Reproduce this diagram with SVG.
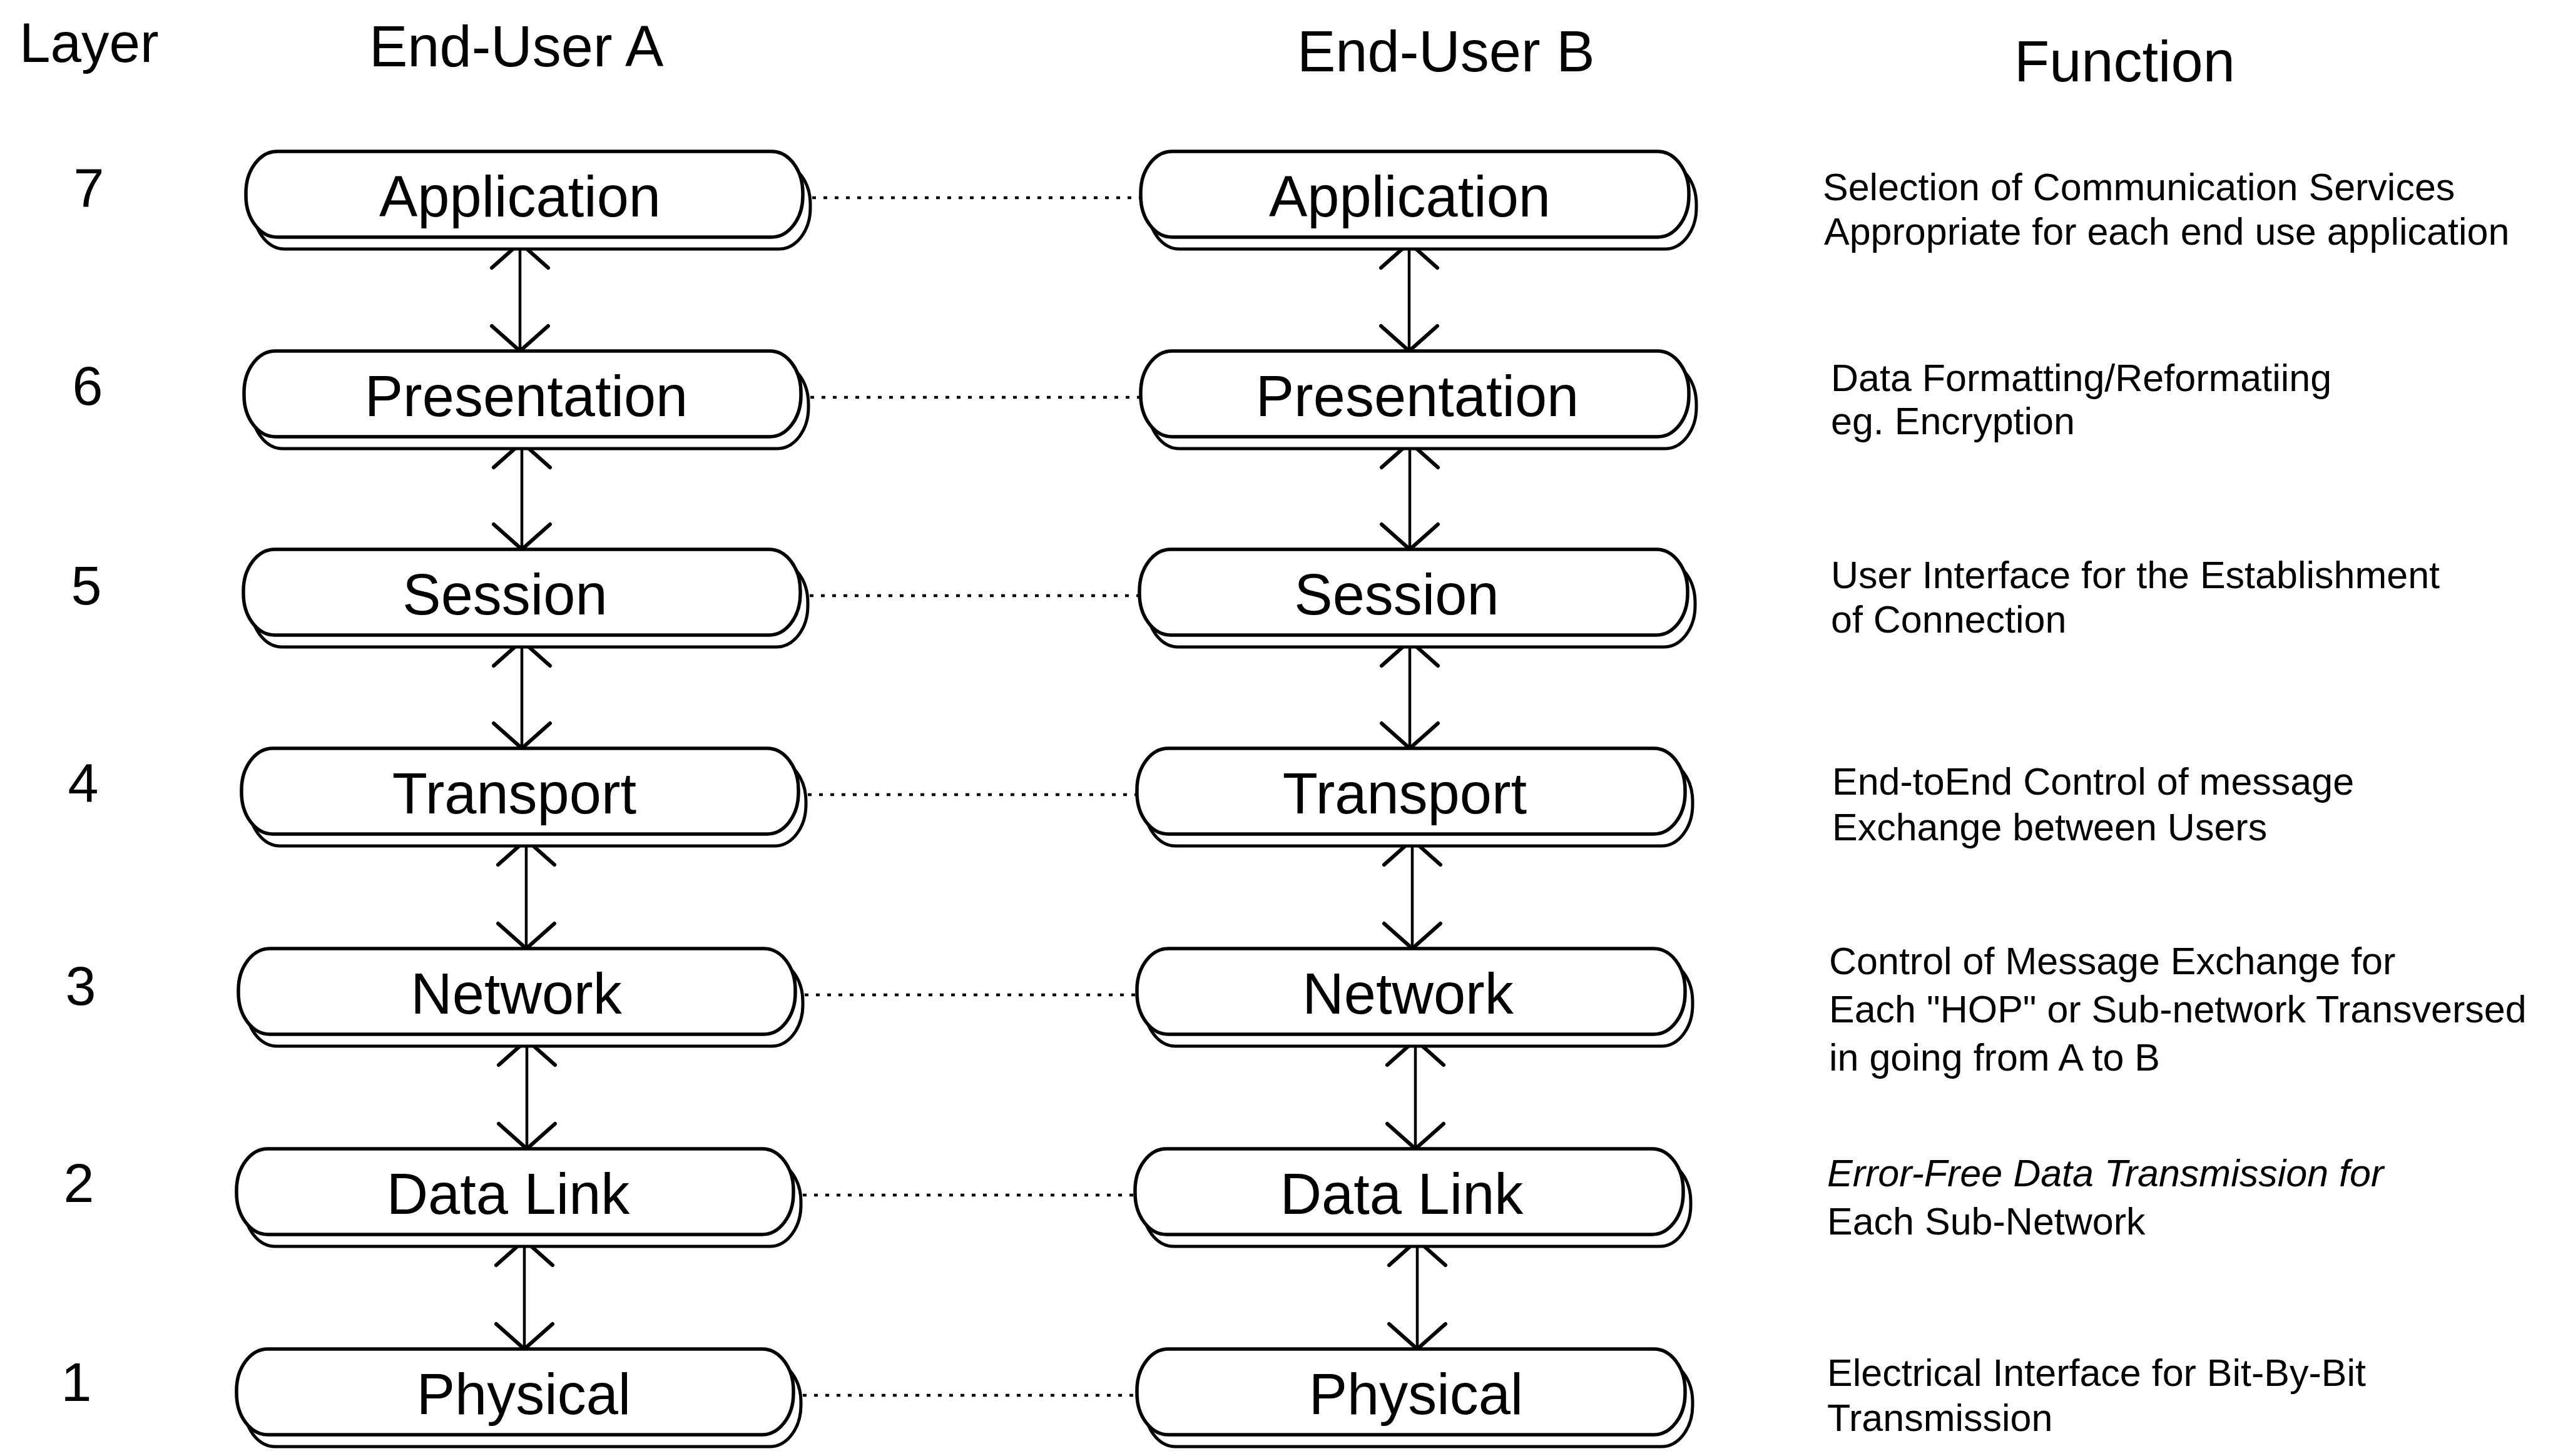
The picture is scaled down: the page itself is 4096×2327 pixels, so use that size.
<svg xmlns="http://www.w3.org/2000/svg" width="4096" height="2327" viewBox="0 0 4096 2327">
<style>
text{font-family:"Liberation Sans",Arial,sans-serif;fill:#000}
.hd{font-size:92px}
.num{font-size:88px;text-anchor:middle}
.lbl{font-size:92px;text-anchor:middle}
.fn{font-size:61px}
.it{font-style:italic}
.box{fill:#fff;stroke:#000;stroke-width:5.5}
.shd{fill:#fff;stroke:#000;stroke-width:5}
.arr{stroke:#000;stroke-width:4.5;fill:none;marker-start:url(#v);marker-end:url(#v)}
.dot{stroke:#000;stroke-width:4.5;stroke-dasharray:6 12;fill:none}
</style>
<defs>
<marker id="v" viewBox="0 0 50 100" refX="46" refY="50" markerWidth="50" markerHeight="100" markerUnits="userSpaceOnUse" orient="auto-start-reverse">
<path d="M6 5 L46 50 L6 95" fill="none" stroke="#000" stroke-width="6" stroke-linejoin="round" stroke-linecap="round"/>
</marker>
<rect id="pa" width="890" height="137" rx="50" ry="66"/>
<rect id="pb" width="876" height="137" rx="50" ry="66"/>
</defs>
<rect width="4096" height="2327" fill="#fff"/>

<g id="headers">
<text class="hd" x="31" y="99" style="font-size:89px">Layer</text>
<text class="hd" x="590" y="106">End-User A</text>
<text class="hd" x="2073" y="114">End-User B</text>
<text class="hd" x="3219" y="130">Function</text>
</g>

<g id="layer-numbers">
<text class="num" x="142" y="331">7</text>
<text class="num" x="140" y="647">6</text>
<text class="num" x="138" y="966">5</text>
<text class="num" x="133" y="1282">4</text>
<text class="num" x="129" y="1606">3</text>
<text class="num" x="126" y="1921">2</text>
<text class="num" x="122" y="2239">1</text>
</g>

<g id="connectors">
<line class="dot" x1="1298" y1="316" x2="1821" y2="316"/>
<line class="dot" x1="1295" y1="635" x2="1821" y2="635"/>
<line class="dot" x1="1294" y1="952" x2="1819" y2="952"/>
<line class="dot" x1="1291" y1="1270" x2="1815" y2="1270"/>
<line class="dot" x1="1286" y1="1590" x2="1815" y2="1590"/>
<line class="dot" x1="1283" y1="1910" x2="1812" y2="1910"/>
<line class="dot" x1="1283" y1="2230" x2="1815" y2="2230"/>
<line class="arr" x1="831" y1="388" x2="831" y2="561"/>
<line class="arr" x1="834" y1="707" x2="834" y2="878"/>
<line class="arr" x1="834" y1="1024" x2="834" y2="1196"/>
<line class="arr" x1="841" y1="1342" x2="841" y2="1516"/>
<line class="arr" x1="842" y1="1662" x2="842" y2="1836"/>
<line class="arr" x1="838" y1="1982" x2="838" y2="2156"/>
<line class="arr" x1="2252" y1="388" x2="2252" y2="561"/>
<line class="arr" x1="2253" y1="707" x2="2253" y2="878"/>
<line class="arr" x1="2253" y1="1024" x2="2253" y2="1196"/>
<line class="arr" x1="2257" y1="1342" x2="2257" y2="1516"/>
<line class="arr" x1="2262" y1="1662" x2="2262" y2="1836"/>
<line class="arr" x1="2265" y1="1982" x2="2265" y2="2156"/>
</g>

<g id="a-application"><use href="#pa" class="shd" x="405" y="261"/><use href="#pa" class="box" x="393" y="242"/><text class="lbl" x="831" y="346">Application</text></g>
<g id="a-presentation"><use href="#pa" class="shd" x="402" y="580"/><use href="#pa" class="box" x="390" y="561"/><text class="lbl" x="841" y="665">Presentation</text></g>
<g id="a-session"><use href="#pa" class="shd" x="401" y="897"/><use href="#pa" class="box" x="389" y="878"/><text class="lbl" x="807" y="982">Session</text></g>
<g id="a-transport"><use href="#pa" class="shd" x="398" y="1215"/><use href="#pa" class="box" x="386" y="1196"/><text class="lbl" x="822" y="1300">Transport</text></g>
<g id="a-network"><use href="#pa" class="shd" x="393" y="1535"/><use href="#pa" class="box" x="381" y="1516"/><text class="lbl" x="825" y="1620">Network</text></g>
<g id="a-datalink"><use href="#pa" class="shd" x="390" y="1855"/><use href="#pa" class="box" x="378" y="1836"/><text class="lbl" x="812" y="1940">Data Link</text></g>
<g id="a-physical"><use href="#pa" class="shd" x="390" y="2175"/><use href="#pa" class="box" x="378" y="2156"/><text class="lbl" x="837" y="2260">Physical</text></g>

<g id="b-application"><use href="#pb" class="shd" x="1835" y="261"/><use href="#pb" class="box" x="1823" y="242"/><text class="lbl" x="2253" y="346">Application</text></g>
<g id="b-presentation"><use href="#pb" class="shd" x="1835" y="580"/><use href="#pb" class="box" x="1823" y="561"/><text class="lbl" x="2265" y="665">Presentation</text></g>
<g id="b-session"><use href="#pb" class="shd" x="1833" y="897"/><use href="#pb" class="box" x="1821" y="878"/><text class="lbl" x="2232" y="982">Session</text></g>
<g id="b-transport"><use href="#pb" class="shd" x="1829" y="1215"/><use href="#pb" class="box" x="1817" y="1196"/><text class="lbl" x="2245" y="1300">Transport</text></g>
<g id="b-network"><use href="#pb" class="shd" x="1829" y="1535"/><use href="#pb" class="box" x="1817" y="1516"/><text class="lbl" x="2250" y="1620">Network</text></g>
<g id="b-datalink"><use href="#pb" class="shd" x="1826" y="1855"/><use href="#pb" class="box" x="1814" y="1836"/><text class="lbl" x="2240" y="1940">Data Link</text></g>
<g id="b-physical"><use href="#pb" class="shd" x="1829" y="2175"/><use href="#pb" class="box" x="1817" y="2156"/><text class="lbl" x="2263" y="2260">Physical</text></g>

<g id="functions">
<text class="fn" x="2913" y="320">Selection of Communication Services</text>
<text class="fn" x="2915" y="391">Appropriate for each end use application</text>
<text class="fn" x="2926" y="625">Data Formatting/Reformatiing</text>
<text class="fn" x="2926" y="694">eg. Encryption</text>
<text class="fn" x="2926" y="940">User Interface for the Establishment</text>
<text class="fn" x="2926" y="1011">of Connection</text>
<text class="fn" x="2928" y="1270">End-toEnd Control of message</text>
<text class="fn" x="2928" y="1343">Exchange between Users</text>
<text class="fn" x="2923" y="1557">Control of Message Exchange for</text>
<text class="fn" x="2923" y="1634">Each "HOP" or Sub-network Transversed</text>
<text class="fn" x="2923" y="1711">in going from A to B</text>
<text class="fn it" x="2920" y="1896">Error-Free Data Transmission for</text>
<text class="fn" x="2920" y="1973">Each Sub-Network</text>
<text class="fn" x="2920" y="2215">Electrical Interface for Bit-By-Bit</text>
<text class="fn" x="2920" y="2287">Transmission</text>
</g>
</svg>
